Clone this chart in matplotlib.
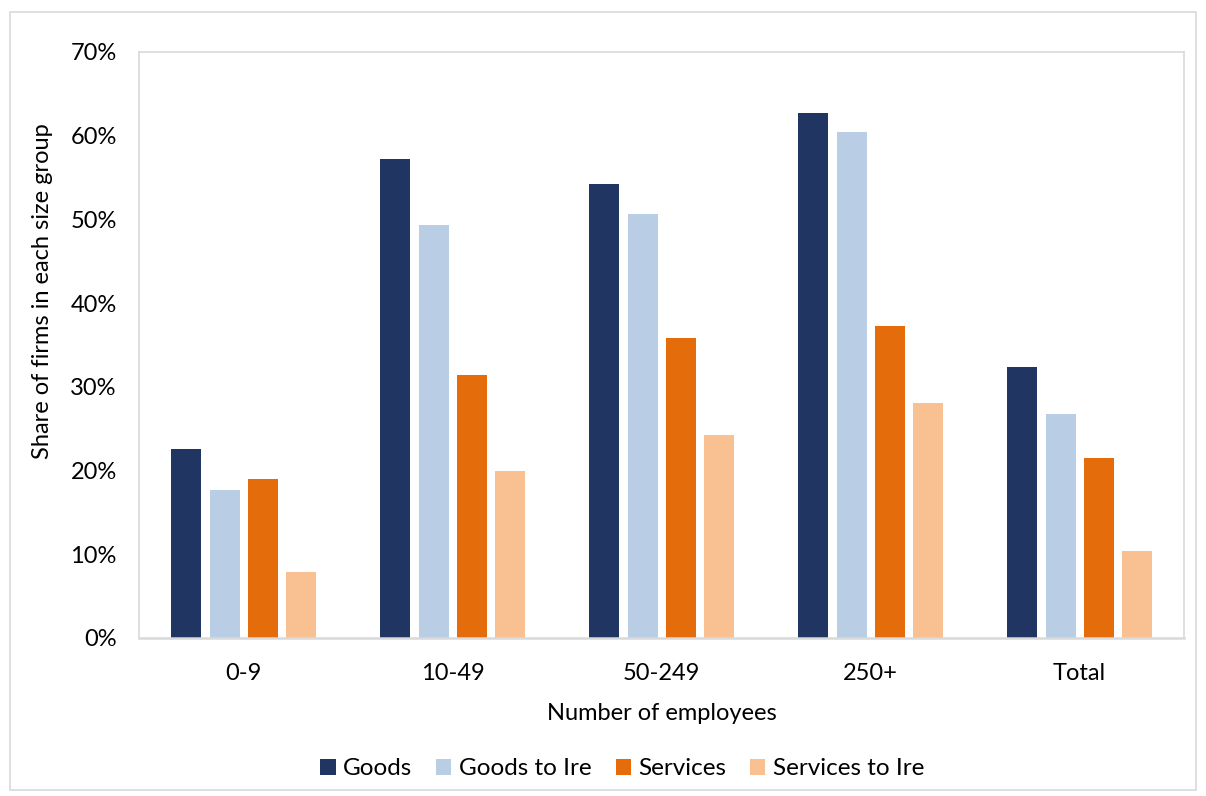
import numpy as np
import matplotlib.pyplot as plt
from matplotlib.patches import Rectangle
from matplotlib.ticker import PercentFormatter

plt.rcParams['font.family'] = ['Lato', 'DejaVu Sans']

categories = ['0-9', '10-49', '50-249', '250+', 'Total']
series = ['Goods', 'Goods to Ire', 'Services', 'Services to Ire']
goods = [22.6, 57.2, 54.2, 62.7, 32.4]
goods_ire = [17.7, 49.3, 50.6, 60.4, 26.8]
services = [19.0, 31.4, 35.8, 37.3, 21.5]
services_ire = [7.9, 20.0, 24.2, 28.1, 10.4]
colors = ['#203561', '#B9CDE5', '#E46C0A', '#F9C192']

fig = plt.figure(figsize=(12.06, 7.96), dpi=100)
ax = fig.add_axes([0.1153, 0.1985, 0.8665, 0.7362])

x = np.arange(len(categories))
w = 0.1435
step = 0.182
for i, (vals, name) in enumerate(zip([goods, goods_ire, services, services_ire], series)):
    ax.bar(x + (i - 1.5) * step, vals, w, color=colors[i], label=name)

ax.set_xlim(-0.5, len(categories) - 0.5)
ax.set_ylim(0, 70)
ax.set_yticks(range(0, 71, 10))
ax.yaxis.set_major_formatter(PercentFormatter(decimals=0))
ax.set_xticks(x)
ax.set_xticklabels(categories)
ax.tick_params(length=0, labelsize=17)
ax.tick_params(axis='x', pad=18)
ax.tick_params(axis='y', pad=16)
for s in ax.spines.values():
    s.set_color('#D9D9D9')
    s.set_linewidth(1.2)
ax.spines['bottom'].set_linewidth(1.8)

ax.set_xlabel('Number of employees', fontsize=17, labelpad=14)
ax.set_ylabel('Share of firms in each size group', fontsize=17)
ax.yaxis.set_label_coords(-0.0823, 0.592)

fig.legend(loc='center', bbox_to_anchor=(0.516, 0.034), ncol=4, frameon=False,
           fontsize=17.5, handlelength=0.62, handleheight=0.62, handletextpad=0.3,
           columnspacing=1.0)

fig.patches.append(Rectangle((10 / 1206, 6 / 796), 1186 / 1206, 778 / 796,
                             transform=fig.transFigure, fill=False,
                             edgecolor='#D9D9D9', linewidth=1.2))

fig.savefig('out.png', dpi=100)
